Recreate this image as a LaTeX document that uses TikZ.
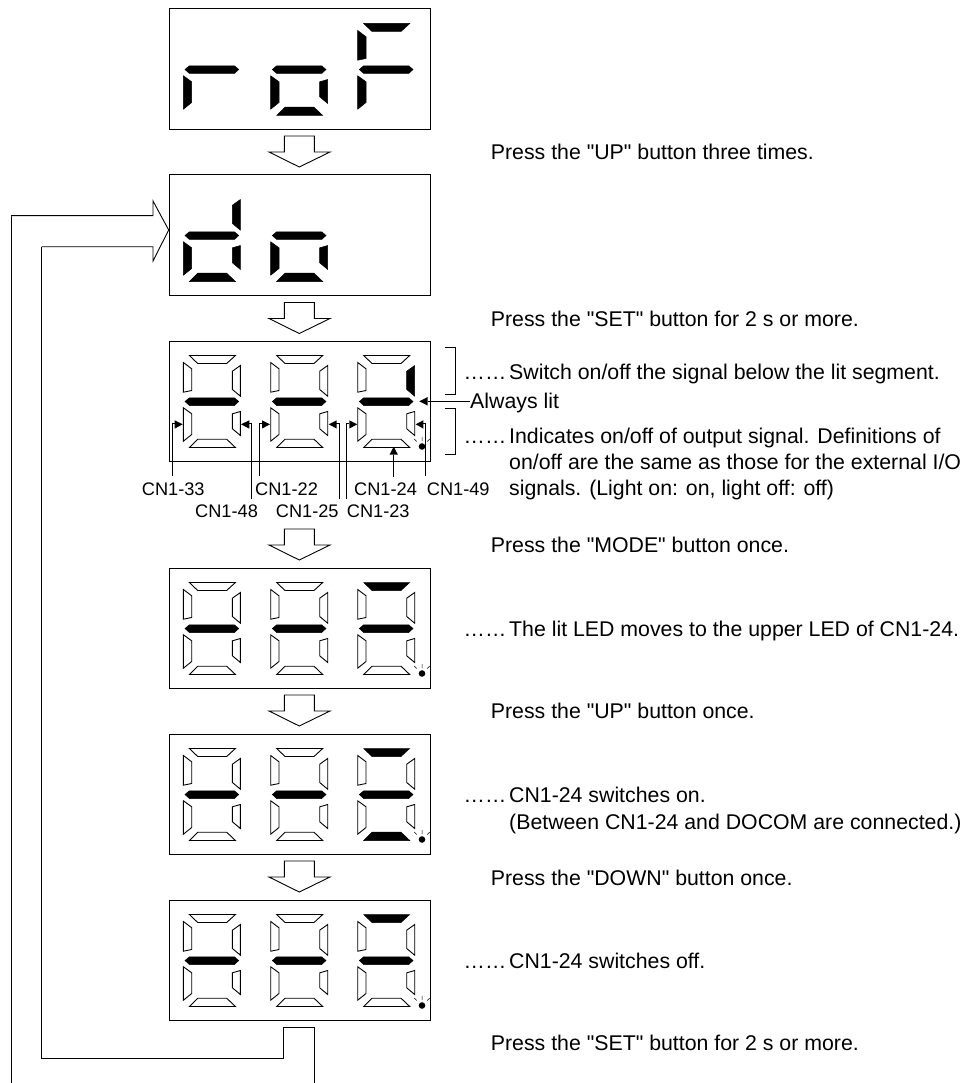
\documentclass[tikz,border=0pt]{standalone}
\usepackage{fontspec}
\setmainfont{Liberation Sans}[Ligatures=TeXOff]
\tikzset{
  s0/.style={},
  s1/.style={draw=black,fill=white,line width=0.9pt,line join=miter},
  s2/.style={draw=black,fill=black,line width=0.5pt},
  panel/.style={draw=black,line width=1pt,fill=white,minimum width=261pt,minimum height=120.5pt,inner sep=0pt,anchor=north west},
  blockarrow/.style={draw=black,line width=0.9pt,fill=white,line join=miter},
  wire/.style={draw=black,line width=0.9pt},
  lead/.style={draw=black,line width=0.8pt},
  txt/.style={anchor=base west,inner sep=0pt,font=\fontsize{21.3}{21.3}\selectfont},
  lab/.style={anchor=base west,inner sep=0pt,font=\fontsize{18.2}{18.2}\selectfont},
}
% one seven-segment digit: x y, then top UL UR mid LL LR bottom (0 none, 1 outline, 2 lit)
\newcommand\sevendig[9]{%
 \begin{scope}[shift={(#1,#2)}]
  \path[s#3] (20.7,15)--(66.7,15)--(58,23)--(29,23)--cycle;
  \path[s#4] (14.7,22)--(23,28.3)--(23,50)--(14.7,51.7)--cycle;
  \path[s#5] (63.7,30.7)--(71.7,25)--(71.7,55.7)--(63.7,49)--cycle;
  \path[s#6] (16.3,61)--(20.7,57.3)--(65.7,57.3)--(70,61)--(65.7,65)--(20.7,65)--cycle;
  \path[s#7] (14.7,67.3)--(23,73.3)--(23,94)--(14.7,100.7)--cycle;
  \path[s#8] (63.7,73.3)--(71.7,71)--(71.7,95)--(63.7,88.3)--cycle;
  \path[s#9] (20.7,107)--(29,98.7)--(58,98.7)--(66.7,107)--cycle;
 \end{scope}}
\newcommand\leddot[2]{%
 \begin{scope}[shift={(#1,#2)}]
  \fill (253.3,106) circle (3.3);
  \draw[line width=0.5pt] (253.3,96.5)--(253.3,100.5) (245.5,98.5)--(248,101) (261,98.5)--(258.5,101);
 \end{scope}}
\newcommand\downblock[1]{%
 \path[blockarrow] (284.3,#1)--(314.3,#1)--(314.3,#1+16)--(330,#1+16)--(299.3,#1+31)--(269,#1+16)--(284.3,#1+16)--cycle;}
\begin{document}
\begin{tikzpicture}[x=1pt,y=-1pt]
\useasboundingbox (0,0) rectangle (976,1083);
% panels
\node[panel] (p1) at (168.7,8.5) {};
\node[panel] (p2) at (168.7,174.5) {};
\node[panel] (p3) at (168.7,340.5) {};
\node[panel] (p4) at (168.7,567.5) {};
\node[panel] (p5) at (168.7,733.5) {};
\node[panel] (p6) at (168.7,899.5) {};
% rof
\sevendig{168.7}{8.5}{0}{0}{0}{2}{2}{0}{0}
\sevendig{256}{8.5}{0}{0}{0}{2}{2}{2}{2}
\sevendig{343}{8.5}{2}{2}{0}{2}{2}{0}{0}
% do
\sevendig{168.7}{174.5}{0}{0}{2}{2}{2}{2}{2}
\sevendig{256}{174.5}{0}{0}{0}{2}{2}{2}{2}
% panel 3
\sevendig{168.7}{340.5}{1}{1}{1}{2}{1}{1}{1}
\sevendig{256}{340.5}{1}{1}{1}{2}{1}{1}{1}
\sevendig{343}{340.5}{1}{1}{2}{2}{1}{1}{1}
\leddot{168.7}{340.5}
% panel 4
\sevendig{168.7}{567.5}{1}{1}{1}{2}{1}{1}{1}
\sevendig{256}{567.5}{1}{1}{1}{2}{1}{1}{1}
\sevendig{343}{567.5}{2}{1}{1}{2}{1}{1}{1}
\leddot{168.7}{567.5}
% panel 5
\sevendig{168.7}{733.5}{1}{1}{1}{2}{1}{1}{1}
\sevendig{256}{733.5}{1}{1}{1}{2}{1}{1}{1}
\sevendig{343}{733.5}{2}{1}{1}{2}{1}{1}{2}
\leddot{168.7}{733.5}
% panel 6
\sevendig{168.7}{899.5}{1}{1}{1}{2}{1}{1}{1}
\sevendig{256}{899.5}{1}{1}{1}{2}{1}{1}{1}
\sevendig{343}{899.5}{2}{1}{1}{2}{1}{1}{1}
\leddot{168.7}{899.5}
% block arrows
\downblock{136}
\downblock{302.5}
\downblock{529}
\downblock{695}
\downblock{861}
% feedback
\coordinate (fbA) at (283.7,1027.7);
\coordinate (fbB) at (314.3,1027.7);
\coordinate (fbC) at (314.3,1083);
\coordinate (fbD) at (11,1083);
\coordinate (fbE) at (11,215.7);
\coordinate (fbF) at (41.7,246.7);
\coordinate (fbG) at (283.7,1058);
\coordinate (fbH) at (41.7,1058);
\draw[wire] (fbG)--(fbA)--(fbB)--(fbC);
\draw[wire] (fbC)--(fbD)--(fbE);
\draw[wire] (fbG)--(fbH)--(fbF);
\path[blockarrow] (fbE)--(153,215.7)--(153,201)--(p2.north west |- 0,230)--(153,261)--(153,246.7)--(fbF);
% leads with heads
\coordinate (t33) at (172.3,423.3); \coordinate (t48) at (251.7,423.3);
\coordinate (t22) at (259,423.3); \coordinate (t25) at (339,423.3);
\coordinate (t23) at (346.3,423.3); \coordinate (t49) at (425.7,423.3);
\node[lab] (l33) at (141.7,495) {CN1-33};
\node[lab] (l22) at (255,495) {CN1-22};
\node[lab] (l24) at (354,495) {CN1-24};
\node[lab] (l49) at (426.7,495) {CN1-49};
\node[lab] (l48) at (195,517.7) {CN1-48};
\node[lab] (l25) at (275.7,517.7) {CN1-25};
\node[lab] (l23) at (346.7,517.7) {CN1-23};
\draw[lead] (172.3,476)--(t33)--(175,423.3);
\fill (182.7,424.3)--(174.7,420.3)--(174.7,428.6)--cycle;
\draw[lead] (251.7,499)--(t48)--(249,423.3);
\fill (241,424.3)--(249.3,420.3)--(249.3,428.6)--cycle;
\draw[lead] (259,476)--(t22)--(262,423.3);
\fill (270,424.3)--(262,420.3)--(262,428.6)--cycle;
\draw[lead] (339,499)--(t25)--(336,423.3);
\fill (328.7,424.3)--(336.7,420.3)--(336.7,428.6)--cycle;
\draw[lead] (346.3,499)--(t23)--(349,423.3);
\fill (357.3,424.3)--(349.3,420.3)--(349.3,428.6)--cycle;
\draw[lead] (425.7,476)--(t49)--(423,423.3);
\fill (415.7,424.3)--(423.3,420.3)--(423.3,428.6)--cycle;
\draw[lead] (393.7,477)--(393.7,455);
\fill (393.7,446.7)--(389.5,454.7)--(397.9,454.7)--cycle;
% always lit
\node[txt] (al) at (470,408.3) {Always lit};
\draw[lead] (al.west |- 0,401.3)--(428,401.3);
\fill (419.3,401.3)--(427.7,397)--(427.7,405.6)--cycle;
% brackets
\draw[lead] (445,347.3)--(455.7,347.3)--(455.7,394)--(445,394);
\draw[lead] (445,408.7)--(455.7,408.7)--(455.7,454)--(445,454);
% right column
\node[txt] (a1) at (490.7,160) {Press the "UP" button three times.};
\node[txt] (a2) at (490.7,326) {Press the "SET" button for 2 s or more.};
\node[txt] (d3) at (463.5,379.3) {……};
\node[txt] (a3) at (509,379.3) {Switch on/off the signal below the lit segment.};
\node[txt] (d4) at (463.5,443.3) {……};
\node[txt] (a4) at (509,443.3) {Indicates on/off of output signal. Definitions of};
\node[txt] (a5) at (509,469.3) {on/off are the same as those for the external I/O};
\node[txt] (a6) at (509,495) {signals. (Light on: on, light off: off)};
\node[txt] (a7) at (490.7,552) {Press the "MODE" button once.};
\node[txt] (d8) at (463.5,636) {……};
\node[txt] (a8) at (509,636) {The lit LED moves to the upper LED of CN1-24.};
\node[txt] (a9) at (490.7,718.7) {Press the "UP" button once.};
\node[txt] (d10) at (463.5,802) {……};
\node[txt] (a10) at (509,802) {CN1-24 switches on.};
\node[txt] (a11) at (509,829) {(Between CN1-24 and DOCOM are connected.)};
\node[txt] (a12) at (490.7,885) {Press the "DOWN" button once.};
\node[txt] (d13) at (463.5,968) {……};
\node[txt] (a13) at (509,968) {CN1-24 switches off.};
\node[txt] (a14) at (490.7,1050.7) {Press the "SET" button for 2 s or more.};
\end{tikzpicture}
\end{document}
